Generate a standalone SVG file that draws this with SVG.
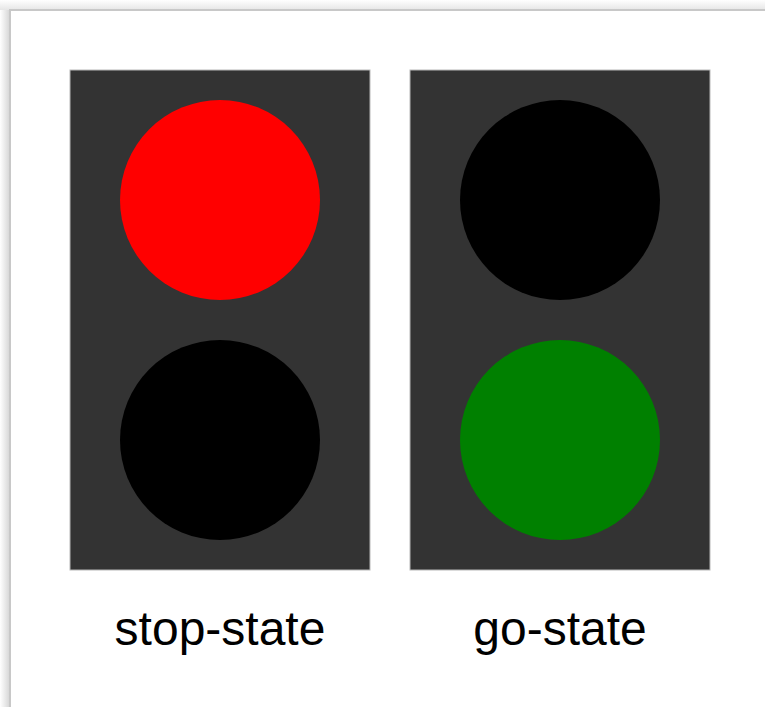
<svg xmlns="http://www.w3.org/2000/svg" width="765" height="707" viewBox="0 0 765 707">
<defs>
<linearGradient id="shL" x1="0" y1="0" x2="1" y2="0"><stop offset="0" stop-color="#ffffff"/><stop offset="1" stop-color="#d4d4d4"/></linearGradient>
<linearGradient id="shT" x1="0" y1="0" x2="0" y2="1"><stop offset="0" stop-color="#ffffff"/><stop offset="1" stop-color="#e6e6e6"/></linearGradient>
<style>
.box{fill:#333333;stroke:#b8b8b8;stroke-width:1}
.lbl{font-family:"Liberation Sans",Arial,sans-serif;font-size:48px;fill:#000;text-anchor:middle}
</style>
</defs>
<rect x="0" y="0" width="765" height="707" fill="#ffffff"/>
<rect x="0" y="0" width="10" height="707" fill="url(#shL)"/>
<rect x="0" y="0" width="765" height="10" fill="url(#shT)"/>
<rect x="10" y="10" width="770" height="710" fill="#ffffff" stroke="#c8c8c8" stroke-width="2"/>
<g id="stop-state">
<rect class="box" x="70" y="70" width="300" height="500"/>
<circle cx="220" cy="200" r="100" fill="#ff0000"/>
<circle cx="220" cy="440" r="100" fill="#000000"/>
<text class="lbl" x="220" y="645">stop-state</text>
</g>
<g id="go-state">
<rect class="box" x="410" y="70" width="300" height="500"/>
<circle cx="560" cy="200" r="100" fill="#000000"/>
<circle cx="560" cy="440" r="100" fill="#008000"/>
<text class="lbl" x="560" y="645">go-state</text>
</g>
<g id="connectors"/>
</svg>
